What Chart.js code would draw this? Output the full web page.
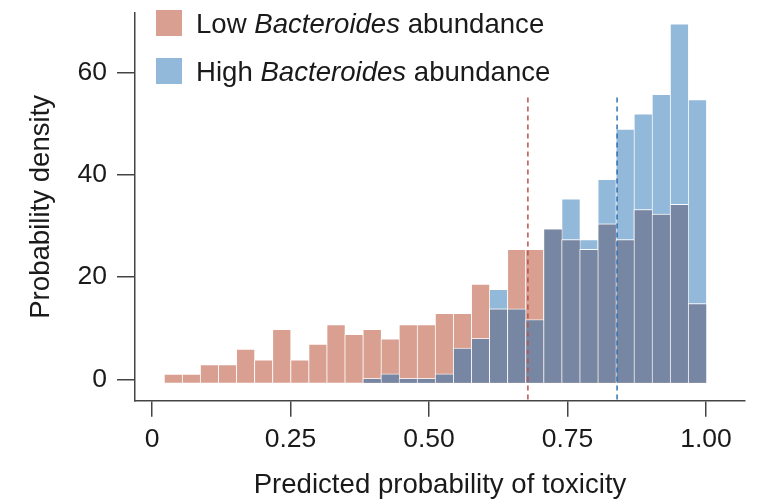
<!DOCTYPE html>
<html><head><meta charset="utf-8">
<script src="https://cdn.jsdelivr.net/npm/chart.js@4/dist/chart.umd.min.js"></script>
<style>html,body{margin:0;padding:0;background:#fff}#wrap{width:764px;height:502px}</style>
</head><body><div id="wrap"><canvas id="c" width="764" height="502"></canvas></div>
<script>
// Histogram bin centres (predicted probability of toxicity)
const binCenters = [0.0380, 0.0706, 0.1032, 0.1359, 0.1685, 0.2011, 0.2337, 0.2664, 0.2990, 0.3316,
                    0.3642, 0.3969, 0.4295, 0.4621, 0.4947, 0.5273, 0.5600, 0.5926, 0.6252, 0.6578,
                    0.6905, 0.7231, 0.7557, 0.7883, 0.8210, 0.8536, 0.8862, 0.9188, 0.9515, 0.9841];
// Probability density, low Bacteroides abundance
const lowAbundance = [1.05, 1.05, 2.9, 2.9, 5.9, 3.8, 9.8, 3.8, 6.9, 10.7,
                      8.8, 9.8, 7.9, 10.7, 10.7, 12.9, 12.9, 18.6, 13.8, 25.4,
                      25.4, 29.4, 27.3, 25.4, 30.4, 27.3, 33.2, 32.3, 34.2, 14.8];
// Probability density, high Bacteroides abundance (null = empty bin)
const highAbundance = [null, null, null, null, null, null, null, null, null, null,
                       null, 0.2, 1.06, 0.2, 0.2, 1.06, 6.1, 8.0, 17.6, 13.8,
                       11.7, 29.4, 35.3, 27.3, 39.1, 48.9, 51.9, 55.7, 69.5, 54.7];
// Means (dashed lines)
const meanLow = 0.6785;
const meanHigh = 0.8395;
const meanLineTop = 55.1;
// Ticks
const xTickValues = [0, 0.25, 0.5, 0.75, 1];
const xTickLabels = ['0', '0.25', '0.50', '0.75', '1.00'];
const yTickValues = [0, 20, 40, 60];
const yTickLabels = ['0', '20', '40', '60'];
const legendLabels = [['Low ', 'Bacteroides', ' abundance'], ['High ', 'Bacteroides', ' abundance']];

const X_MIN = -0.0307, X_MAX = 1.0704, Y_MIN = -4.17, Y_MAX = 71.6, BAR_BASE = -0.65;
const RED = '#D9A092', BLUE = '#92B8DA', OVERLAP = '#7787A3';
const FONT = '"Liberation Sans", Arial, Helvetica, sans-serif';
const overlap = lowAbundance.map((v, i) => (v == null || highAbundance[i] == null) ? null : Math.min(v, highAbundance[i]));
const pts = arr => binCenters.map((x, i) => ({x: x, y: arr[i]}));

const barDefaults = {type: 'bar', grouped: false, barPercentage: 1, categoryPercentage: 1,
  base: BAR_BASE, borderWidth: {top: 1, left: 1, right: 0, bottom: 0}, borderColor: 'rgba(255,255,255,0.75)', borderSkipped: false};

const legendPlugin = {
  id: 'customLegend',
  afterDraw(chart) {
    const ctx = chart.ctx;
    const colors = [RED, BLUE];
    ctx.save();
    legendLabels.forEach((parts, i) => {
      const y0 = 10 + i * 48;
      ctx.fillStyle = colors[i];
      ctx.fillRect(156, y0, 26, 26);
      let x = 196;
      const baseY = y0 + 22.5;
      ctx.fillStyle = '#1a1a1a';
      ctx.textBaseline = 'alphabetic';
      ctx.textAlign = 'left';
      parts.forEach((p, j) => {
        ctx.font = (j === 1 ? 'italic ' : '') + '27.6px ' + FONT;
        ctx.fillText(p, x, baseY);
        x += ctx.measureText(p).width;
      });
    });
    ctx.restore();
  }
};

new Chart(document.getElementById('c'), {
  data: {
    datasets: [
      {type: 'line', data: [{x: meanLow, y: meanLineTop}, {x: meanLow, y: Y_MIN}], borderColor: '#BD4F47',
       borderWidth: 1.5, borderDash: [5, 4], pointRadius: 0, fill: false, order: 0},
      {type: 'line', data: [{x: meanHigh, y: meanLineTop}, {x: meanHigh, y: Y_MIN}], borderColor: '#3070B3',
       borderWidth: 1.5, borderDash: [5, 4], pointRadius: 0, fill: false, order: 0},
      Object.assign({}, barDefaults, {label: 'overlap', data: pts(overlap), backgroundColor: OVERLAP, order: 1}),
      Object.assign({}, barDefaults, {label: 'Low Bacteroides abundance', data: pts(lowAbundance), backgroundColor: RED, order: 2}),
      Object.assign({}, barDefaults, {label: 'High Bacteroides abundance', data: pts(highAbundance), backgroundColor: BLUE, order: 3})
    ]
  },
  options: {
    responsive: false, animation: false, devicePixelRatio: 1,
    layout: {padding: {top: 13, right: 19, left: 0, bottom: 0}},
    plugins: {legend: {display: false}, tooltip: {enabled: false}},
    scales: {
      x: {
        type: 'linear', min: X_MIN, max: X_MAX, offset: false,
        afterBuildTicks: s => { s.ticks = xTickValues.map(v => ({value: v})); },
        afterFit: s => { s.height = 101.3; s.paddingLeft = 0; s.paddingRight = 0; },
        ticks: {callback: (v) => xTickLabels[xTickValues.indexOf(v)], color: '#1a1a1a', padding: 7,
                font: {family: FONT, size: 26.5}, maxRotation: 0, autoSkip: false},
        grid: {display: true, offset: false, drawOnChartArea: false, drawTicks: true, tickLength: 16, color: '#444', lineWidth: 1.5},
        border: {display: true, color: '#444', width: 1.5},
        title: {display: true, text: 'Predicted probability of toxicity', color: '#1a1a1a',
                font: {family: FONT, size: 27.6}, padding: {top: 0, bottom: 0}}
      },
      y: {
        type: 'linear', min: Y_MIN, max: Y_MAX,
        afterBuildTicks: s => { s.ticks = yTickValues.map(v => ({value: v})); },
        afterFit: s => { s.width = 135; s.paddingTop = 0; s.paddingBottom = 0; },
        ticks: {callback: (v) => yTickLabels[yTickValues.indexOf(v)], color: '#1a1a1a', padding: 10,
                font: {family: FONT, size: 26.5}},
        grid: {display: true, drawOnChartArea: false, drawTicks: true, tickLength: 18, color: '#444', lineWidth: 1.5},
        border: {display: true, color: '#444', width: 1.5},
        title: {display: true, text: 'Probability density', color: '#1a1a1a',
                font: {family: FONT, size: 27.6}, padding: {top: 25, bottom: 0}}
      }
    }
  },
  plugins: [legendPlugin]
});
</script>
</body></html>
